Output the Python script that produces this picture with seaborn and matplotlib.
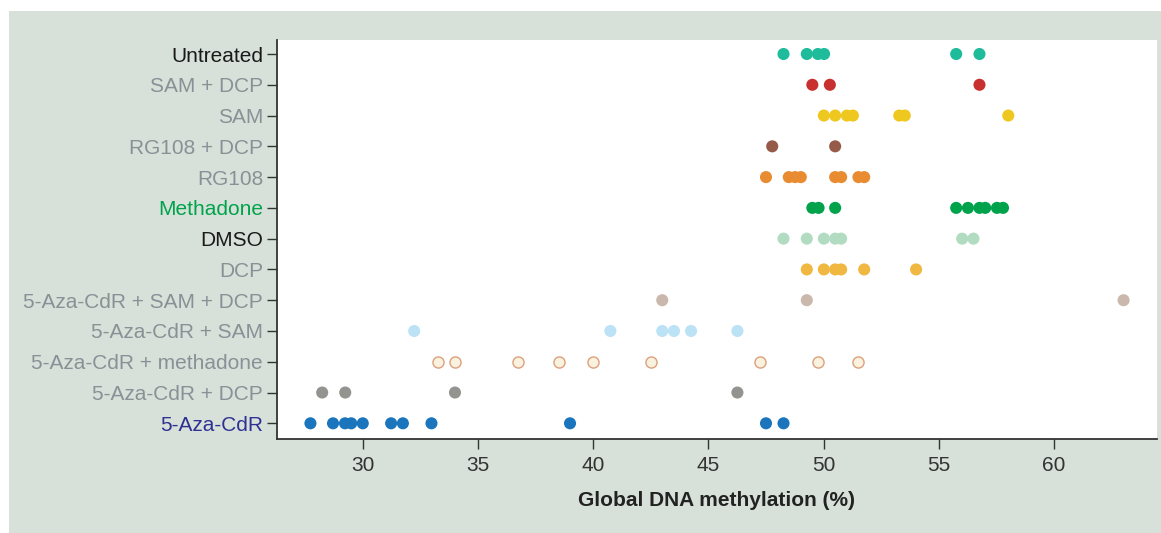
import matplotlib
matplotlib.use("Agg")
import matplotlib.pyplot as plt
from matplotlib.patches import Rectangle
import seaborn as sns
import pandas as pd

# ---- data ----
categories = [
    "Untreated", "SAM + DCP", "SAM", "RG108 + DCP", "RG108", "Methadone", "DMSO",
    "DCP", "5-Aza-CdR + SAM + DCP", "5-Aza-CdR + SAM", "5-Aza-CdR + methadone",
    "5-Aza-CdR + DCP", "5-Aza-CdR",
]
untreated = [48.26, 49.27, 49.75, 50.02, 55.75, 56.76]
sam_dcp = [49.51, 50.27, 56.76]
sam = [50.01, 50.50, 51.01, 51.27, 53.28, 53.52, 58.01]
rg108_dcp = [47.77, 50.50]
rg108 = [47.50, 48.49, 48.76, 49.01, 50.50, 50.76, 51.51, 51.76]
methadone = [49.51, 49.78, 50.50, 55.75, 56.26, 56.76, 57.01, 57.52, 57.78]
dmso = [48.26, 49.27, 50.01, 50.50, 50.76, 56.01, 56.50]
dcp = [49.27, 50.01, 50.50, 50.76, 51.76, 54.01]
aza_sam_dcp = [43.00, 49.27, 63.01]
aza_sam = [32.24, 40.75, 43.00, 43.51, 44.25, 46.26]
aza_methadone = [33.26, 34.01, 36.74, 38.51, 40.00, 42.50, 47.26, 49.76, 51.51]
aza_dcp = [28.25, 29.25, 34.01, 46.26]
aza = [27.74, 28.72, 29.24, 29.51, 30.01, 31.24, 31.75, 32.99, 39.00, 47.50, 48.26]

series = [untreated, sam_dcp, sam, rg108_dcp, rg108, methadone, dmso, dcp,
          aza_sam_dcp, aza_sam, aza_methadone, aza_dcp, aza]

colors = ["#1fbc9c", "#c8302f", "#efc81f", "#955a48", "#e88b31", "#00a34b", "#b2dcc2",
          "#f0b840", "#c9b8ab", "#bce2f5", "#f8f2df", "#939390", "#1a75bc"]
label_colors = ["#1a1a1a", "#8a9096", "#8a9096", "#8a9096", "#8a9096", "#00a34b", "#1a1a1a",
                "#8a9096", "#8a9096", "#8a9096", "#8a9096", "#8a9096", "#2e3192"]
hollow_edge = "#dda07c"
hollow_group = "5-Aza-CdR + methadone"

df = pd.DataFrame(
    [(c, v) for c, vals in zip(categories, series) for v in vals],
    columns=["group", "value"],
)
palette = dict(zip(categories, colors))

# ---- style ----
sns.set_style("ticks")
plt.rcParams["font.family"] = ["Liberation Sans", "DejaVu Sans"]

fig = plt.figure(figsize=(11.61, 5.33), dpi=100, facecolor="white")
bg = Rectangle((9 / 1161, 0), 1 - 9 / 1161, 1 - 11 / 533,
               transform=fig.transFigure, facecolor="#d7e1d9",
               edgecolor="none", zorder=-10)
fig.patches.append(bg)
ax = fig.add_axes([277 / 1161, 1 - 439 / 533, (1157 - 277) / 1161, (439 - 40) / 533])
ax.set_zorder(5)
ax.set_facecolor("white")

filled = df[df["group"] != hollow_group]
hollow = df[df["group"] == hollow_group]

sns.stripplot(data=filled, x="value", y="group", hue="group", palette=palette,
              order=categories, hue_order=categories, jitter=False, size=8.7,
              linewidth=0, legend=False, ax=ax, zorder=3)
sns.stripplot(data=hollow, x="value", y="group", order=categories, jitter=False,
              size=8.0, color=palette[hollow_group], edgecolor=hollow_edge,
              linewidth=1.0, legend=False, ax=ax, zorder=3)

ax.set_xlim(26.29, 64.46)
ax.set_ylim(12.51, -0.455)
ax.set_xticks([30, 35, 40, 45, 50, 55, 60])
ax.set_ylabel("")
ax.set_xlabel("Global DNA methylation (%)", fontsize=15, fontweight="bold",
              color="#222222", labelpad=12)

for s in ["top", "right"]:
    ax.spines[s].set_visible(False)
for s in ["left", "bottom"]:
    ax.spines[s].set_color("#333333")
    ax.spines[s].set_linewidth(1.3)

ax.tick_params(axis="x", length=7, width=1, color="#333333", labelsize=15,
               labelcolor="#333333", pad=5)
ax.tick_params(axis="y", length=7, width=1, color="#333333", labelsize=15, pad=3)
for lbl, col in zip(ax.get_yticklabels(), label_colors):
    lbl.set_color(col)

fig.savefig("out.png", dpi=100, facecolor="white")
